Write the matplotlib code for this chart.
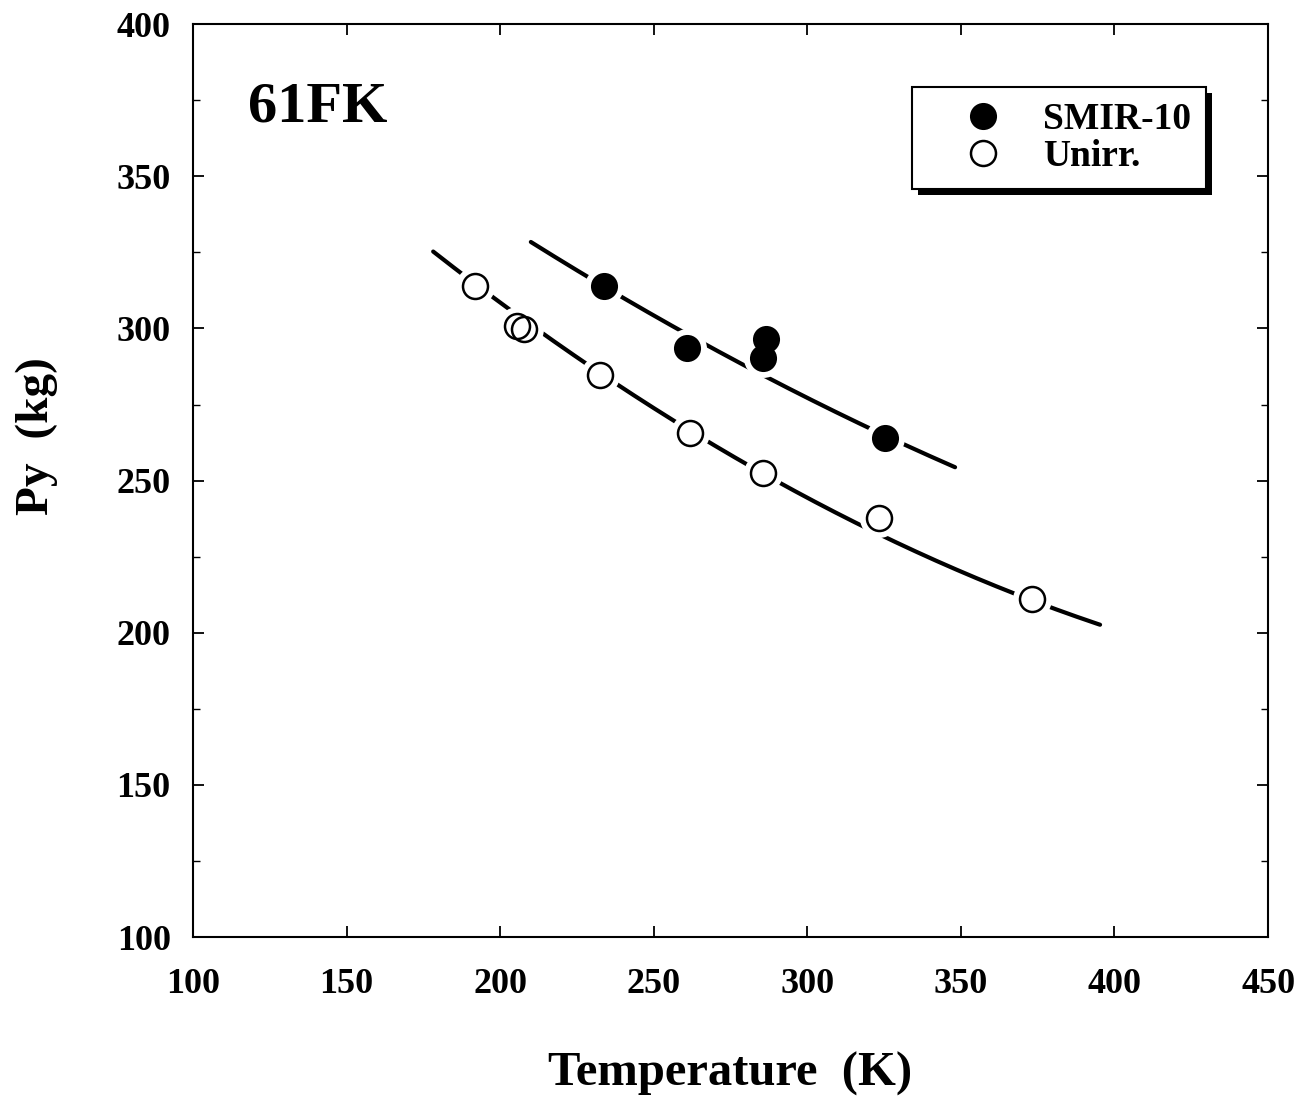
import numpy as np
import matplotlib
matplotlib.use("Agg")
import matplotlib.pyplot as plt
from matplotlib.patches import Rectangle
from matplotlib.ticker import MultipleLocator
from matplotlib.transforms import IdentityTransform

plt.rcParams['font.family'] = ['Liberation Serif', 'DejaVu Serif']
plt.rcParams['font.weight'] = 'bold'

smir_T = [233.8, 260.9, 286.6, 285.6, 325.3]
smir_Py = [313.9, 293.6, 296.5, 290.3, 264.0]
unirr_T = [191.8, 205.5, 207.8, 232.5, 261.8, 285.6, 323.4, 373.2]
unirr_Py = [313.9, 300.8, 299.8, 284.7, 265.6, 252.5, 237.7, 211.1]

# trend curves, sampled along the drawn lines in the reference
smir_fit_T = [210.0, 233.8, 260.9, 266.1, 304.2, 325.3, 348.1]
smir_fit_Py = [328.4, 313.9, 297.8, 295.2, 275.5, 264.4, 254.5]
unirr_fit_T = [178.2, 232.5, 261.8, 285.6, 323.4, 373.2, 395.3]
unirr_fit_Py = [325.8, 284.7, 265.6, 252.5, 233.4, 211.1, 201.9]

fig = plt.figure(figsize=(13.1, 10.98), dpi=100)
ax = fig.add_axes([0.1473, 0.1466, 0.968 - 0.1473, 0.978 - 0.1466])

for ft, fp in [(unirr_fit_T, unirr_fit_Py), (smir_fit_T, smir_fit_Py)]:
    c = np.polyfit(ft, fp, 2)
    tt = np.linspace(min(ft), max(ft), 200)
    ax.plot(tt, np.polyval(c, tt), color='black', lw=3, solid_capstyle='round', zorder=2)

# white halo behind every marker (breaks the line around points)
ax.plot(smir_T + unirr_T, smir_Py + unirr_Py, 'o', ms=28, mfc='white', mec='none',
        ls='none', zorder=3)

ax.plot(smir_T, smir_Py, 'o', ms=18, mfc='black', mec='black', mew=1.5,
        ls='none', label='SMIR-10', zorder=4)
ax.plot(unirr_T, unirr_Py, 'o', ms=18, mfc='none', mec='black', mew=1.8,
        ls='none', label='Unirr.', zorder=4)

ax.set_xlim(100, 450)
ax.set_ylim(100, 400)
ax.xaxis.set_major_locator(MultipleLocator(50))
ax.yaxis.set_major_locator(MultipleLocator(50))
ax.yaxis.set_minor_locator(MultipleLocator(25))
ax.tick_params(which='both', direction='in', top=True, right=True)
ax.tick_params(which='major', length=8, width=1.3, labelsize=26)
ax.tick_params(which='minor', length=5, width=1.0)
ax.tick_params(axis='x', pad=22)
ax.tick_params(axis='y', pad=16)
for lab in ax.get_xticklabels() + ax.get_yticklabels():
    lab.set_fontweight('bold')
for s in ax.spines.values():
    s.set_linewidth(1.5)

ax.set_xlabel('Temperature  (K)', fontsize=35, fontweight='bold', labelpad=37)
ax.set_ylabel('Py  (kg)', fontsize=34, fontweight='bold', labelpad=42)
ax.yaxis.label.set_y(0.549)

ax.text(0.051, 0.9085, '61FK', transform=ax.transAxes, fontsize=42,
        fontweight='bold', va='center', ha='left')

leg = ax.legend(loc='upper right', bbox_to_anchor=(0.9423, 0.931), borderaxespad=0,
                fontsize=27, frameon=True, fancybox=False, edgecolor='black',
                handlelength=3.0, handletextpad=0.1, borderpad=0.4,
                labelspacing=0.05, framealpha=1)
leg.get_frame().set_linewidth(1.5)
for t in leg.get_texts():
    t.set_fontweight('bold')

# drop shadow behind the legend
fig.canvas.draw()
bb = leg.get_window_extent()
sh = Rectangle((bb.x0 + 6, bb.y0 - 6), bb.width, bb.height, transform=IdentityTransform(),
               facecolor='black', edgecolor='none', clip_on=False, zorder=4.9)
ax.add_artist(sh)
leg.set_zorder(5)

fig.savefig('out.png', dpi=100)
